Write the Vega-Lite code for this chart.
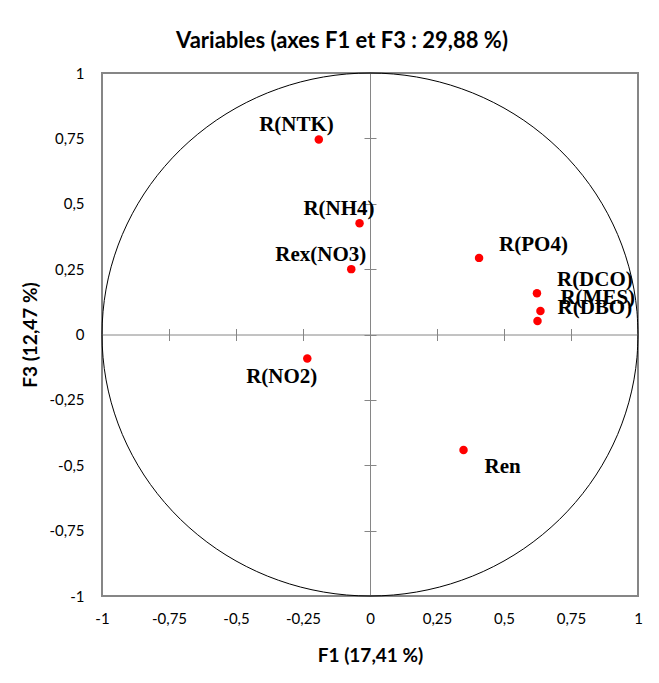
{
  "$schema": "https://vega.github.io/schema/vega-lite/v6.json",
  "width": 536,
  "height": 523,
  "autosize": {"type": "none"},
  "padding": {"left": 102, "top": 73, "right": 21, "bottom": 87},
  "background": "white",
  "title": {
    "text": "Variables (axes F1 et F3 : 29,88 %)",
    "font": "Lato",
    "fontSize": 22,
    "fontWeight": "bold",
    "color": "#000000",
    "anchor": "middle",
    "frame": "group",
    "dx": -28,
    "dy": 4,
    "baseline": "alphabetic",
    "offset": 0
  },
  "datasets": {
    "circle": [
      {"i": 0, "cx": 1, "cy": 0},
      {"i": 1, "cx": 0.9962, "cy": 0.0872},
      {"i": 2, "cx": 0.9848, "cy": 0.1736},
      {"i": 3, "cx": 0.9659, "cy": 0.2588},
      {"i": 4, "cx": 0.9397, "cy": 0.342},
      {"i": 5, "cx": 0.9063, "cy": 0.4226},
      {"i": 6, "cx": 0.866, "cy": 0.5},
      {"i": 7, "cx": 0.8192, "cy": 0.5736},
      {"i": 8, "cx": 0.766, "cy": 0.6428},
      {"i": 9, "cx": 0.7071, "cy": 0.7071},
      {"i": 10, "cx": 0.6428, "cy": 0.766},
      {"i": 11, "cx": 0.5736, "cy": 0.8192},
      {"i": 12, "cx": 0.5, "cy": 0.866},
      {"i": 13, "cx": 0.4226, "cy": 0.9063},
      {"i": 14, "cx": 0.342, "cy": 0.9397},
      {"i": 15, "cx": 0.2588, "cy": 0.9659},
      {"i": 16, "cx": 0.1736, "cy": 0.9848},
      {"i": 17, "cx": 0.0872, "cy": 0.9962},
      {"i": 18, "cx": 0, "cy": 1},
      {"i": 19, "cx": -0.0872, "cy": 0.9962},
      {"i": 20, "cx": -0.1736, "cy": 0.9848},
      {"i": 21, "cx": -0.2588, "cy": 0.9659},
      {"i": 22, "cx": -0.342, "cy": 0.9397},
      {"i": 23, "cx": -0.4226, "cy": 0.9063},
      {"i": 24, "cx": -0.5, "cy": 0.866},
      {"i": 25, "cx": -0.5736, "cy": 0.8192},
      {"i": 26, "cx": -0.6428, "cy": 0.766},
      {"i": 27, "cx": -0.7071, "cy": 0.7071},
      {"i": 28, "cx": -0.766, "cy": 0.6428},
      {"i": 29, "cx": -0.8192, "cy": 0.5736},
      {"i": 30, "cx": -0.866, "cy": 0.5},
      {"i": 31, "cx": -0.9063, "cy": 0.4226},
      {"i": 32, "cx": -0.9397, "cy": 0.342},
      {"i": 33, "cx": -0.9659, "cy": 0.2588},
      {"i": 34, "cx": -0.9848, "cy": 0.1736},
      {"i": 35, "cx": -0.9962, "cy": 0.0872},
      {"i": 36, "cx": -1, "cy": 0},
      {"i": 37, "cx": -0.9962, "cy": -0.0872},
      {"i": 38, "cx": -0.9848, "cy": -0.1736},
      {"i": 39, "cx": -0.9659, "cy": -0.2588},
      {"i": 40, "cx": -0.9397, "cy": -0.342},
      {"i": 41, "cx": -0.9063, "cy": -0.4226},
      {"i": 42, "cx": -0.866, "cy": -0.5},
      {"i": 43, "cx": -0.8192, "cy": -0.5736},
      {"i": 44, "cx": -0.766, "cy": -0.6428},
      {"i": 45, "cx": -0.7071, "cy": -0.7071},
      {"i": 46, "cx": -0.6428, "cy": -0.766},
      {"i": 47, "cx": -0.5736, "cy": -0.8192},
      {"i": 48, "cx": -0.5, "cy": -0.866},
      {"i": 49, "cx": -0.4226, "cy": -0.9063},
      {"i": 50, "cx": -0.342, "cy": -0.9397},
      {"i": 51, "cx": -0.2588, "cy": -0.9659},
      {"i": 52, "cx": -0.1736, "cy": -0.9848},
      {"i": 53, "cx": -0.0872, "cy": -0.9962},
      {"i": 54, "cx": 0, "cy": -1},
      {"i": 55, "cx": 0.0872, "cy": -0.9962},
      {"i": 56, "cx": 0.1736, "cy": -0.9848},
      {"i": 57, "cx": 0.2588, "cy": -0.9659},
      {"i": 58, "cx": 0.342, "cy": -0.9397},
      {"i": 59, "cx": 0.4226, "cy": -0.9063},
      {"i": 60, "cx": 0.5, "cy": -0.866},
      {"i": 61, "cx": 0.5736, "cy": -0.8192},
      {"i": 62, "cx": 0.6428, "cy": -0.766},
      {"i": 63, "cx": 0.7071, "cy": -0.7071},
      {"i": 64, "cx": 0.766, "cy": -0.6428},
      {"i": 65, "cx": 0.8192, "cy": -0.5736},
      {"i": 66, "cx": 0.866, "cy": -0.5},
      {"i": 67, "cx": 0.9063, "cy": -0.4226},
      {"i": 68, "cx": 0.9397, "cy": -0.342},
      {"i": 69, "cx": 0.9659, "cy": -0.2588},
      {"i": 70, "cx": 0.9848, "cy": -0.1736},
      {"i": 71, "cx": 0.9962, "cy": -0.0872},
      {"i": 72, "cx": 1, "cy": 0}
    ],
    "vars": [
      {"name": "R(NTK)", "F1": -0.191, "F3": 0.746},
      {"name": "R(NH4)", "F1": -0.039, "F3": 0.425},
      {"name": "Rex(NO3)", "F1": -0.07, "F3": 0.25},
      {"name": "R(PO4)", "F1": 0.407, "F3": 0.293},
      {"name": "R(DCO)", "F1": 0.623, "F3": 0.158},
      {"name": "R(MES)", "F1": 0.636, "F3": 0.09},
      {"name": "R(DBO)", "F1": 0.625, "F3": 0.052},
      {"name": "R(NO2)", "F1": -0.234, "F3": -0.092},
      {"name": "Ren", "F1": 0.349, "F3": -0.442}
    ]
  },
  "resolve": {"axis": {"x": "independent", "y": "independent"}},
  "layer": [
    {
      "data": {"name": "circle"},
      "mark": {"type": "line", "color": "#000000", "strokeWidth": 1, "interpolate": "cardinal", "clip": false},
      "encoding": {
        "x": {
          "field": "cx", "type": "quantitative",
          "scale": {"domain": [-1, 1], "nice": false, "zero": false},
          "axis": {
            "orient": "bottom",
            "values": [-1, -0.75, -0.5, -0.25, 0, 0.25, 0.5, 0.75, 1],
            "labelExpr": "replace(toString(datum.value), '.', ',')",
            "ticks": false, "domain": false, "grid": false,
            "labelFont": "Lato", "labelFontSize": 15, "labelColor": "#000000",
            "labelPadding": 15, "labelFlush": false, "labelOverlap": false,
            "title": "F1 (17,41 %)",
            "titleFont": "Lato", "titleFontSize": 19, "titleFontWeight": "bold", "titleColor": "#000000",
            "titlePadding": 20
          }
        },
        "y": {
          "field": "cy", "type": "quantitative",
          "scale": {"domain": [-1, 1], "nice": false, "zero": false},
          "axis": {
            "orient": "left",
            "values": [-1, -0.75, -0.5, -0.25, 0, 0.25, 0.5, 0.75, 1],
            "labelExpr": "replace(toString(datum.value), '.', ',')",
            "ticks": false, "domain": false, "grid": false,
            "labelFont": "Lato", "labelFontSize": 15, "labelColor": "#000000",
            "labelPadding": 18, "labelFlush": false, "labelOverlap": false,
            "title": "F3 (12,47 %)",
            "titleFont": "Lato", "titleFontSize": 19, "titleFontWeight": "bold", "titleColor": "#000000",
            "titlePadding": 8
          }
        },
        "order": {"field": "i", "type": "quantitative"}
      }
    },
    {
      "data": {"name": "vars"},
      "mark": {"type": "point", "filled": true, "color": "#ff0000", "opacity": 1, "size": 72},
      "encoding": {
        "x": {
          "field": "F1", "type": "quantitative",
          "axis": {
            "orient": "bottom", "offset": -261.5,
            "values": [-1, -0.75, -0.5, -0.25, 0, 0.25, 0.5, 0.75, 1],
            "labels": false, "title": null, "grid": false,
            "domain": true, "domainColor": "#868686", "domainWidth": 1,
            "ticks": true, "tickSize": 6, "tickColor": "#868686", "tickWidth": 1
          }
        },
        "y": {
          "field": "F3", "type": "quantitative",
          "axis": {
            "orient": "left", "offset": -268,
            "values": [-1, -0.75, -0.5, -0.25, 0, 0.25, 0.5, 0.75, 1],
            "labels": false, "title": null, "grid": false,
            "domain": true, "domainColor": "#868686", "domainWidth": 1,
            "ticks": true, "tickSize": 6, "tickColor": "#868686", "tickWidth": 1
          }
        }
      }
    },
    {
      "data": {"name": "vars"},
      "transform": [{"filter": {"field": "name", "oneOf": ["R(PO4)", "R(DCO)", "R(MES)", "R(DBO)"]}}],
      "mark": {"type": "text", "font": "Liberation Serif", "fontWeight": "bold", "fontSize": 21, "color": "#000000", "align": "left", "baseline": "alphabetic", "dx": 20, "dy": -7},
      "encoding": {
        "x": {
          "field": "F1", "type": "quantitative",
          "axis": {
            "orient": "top", "offset": -261.5,
            "values": [-1, -0.75, -0.5, -0.25, 0, 0.25, 0.5, 0.75, 1],
            "labels": false, "title": null, "grid": false, "domain": false,
            "ticks": true, "tickSize": 6, "tickColor": "#868686", "tickWidth": 1
          }
        },
        "y": {
          "field": "F3", "type": "quantitative",
          "axis": {
            "orient": "right", "offset": -268,
            "values": [-1, -0.75, -0.5, -0.25, 0, 0.25, 0.5, 0.75, 1],
            "labels": false, "title": null, "grid": false, "domain": false,
            "ticks": true, "tickSize": 6, "tickColor": "#868686", "tickWidth": 1
          }
        },
        "text": {"field": "name", "type": "nominal"}
      }
    },
    {
      "data": {"name": "vars"},
      "transform": [{"filter": {"field": "name", "oneOf": ["R(NTK)", "R(NH4)", "Rex(NO3)"]}}],
      "mark": {"type": "text", "font": "Liberation Serif", "fontWeight": "bold", "fontSize": 21, "color": "#000000", "align": "right", "baseline": "alphabetic", "dx": 15, "dy": -8},
      "encoding": {
        "x": {"field": "F1", "type": "quantitative", "axis": null},
        "y": {"field": "F3", "type": "quantitative", "axis": null},
        "text": {"field": "name", "type": "nominal"}
      }
    },
    {
      "data": {"name": "vars"},
      "transform": [{"filter": {"field": "name", "equal": "R(NO2)"}}],
      "mark": {"type": "text", "font": "Liberation Serif", "fontWeight": "bold", "fontSize": 21, "color": "#000000", "align": "right", "baseline": "alphabetic", "dx": 10, "dy": 24},
      "encoding": {
        "x": {"field": "F1", "type": "quantitative", "axis": null},
        "y": {"field": "F3", "type": "quantitative", "axis": null},
        "text": {"field": "name", "type": "nominal"}
      }
    },
    {
      "data": {"name": "vars"},
      "transform": [{"filter": {"field": "name", "equal": "Ren"}}],
      "mark": {"type": "text", "font": "Liberation Serif", "fontWeight": "bold", "fontSize": 21, "color": "#000000", "align": "left", "baseline": "alphabetic", "dx": 21, "dy": 23},
      "encoding": {
        "x": {"field": "F1", "type": "quantitative", "axis": null},
        "y": {"field": "F3", "type": "quantitative", "axis": null},
        "text": {"field": "name", "type": "nominal"}
      }
    }
  ],
  "config": {
    "font": "Lato",
    "view": {"stroke": "#868686", "strokeWidth": 2},
    "axis": {"grid": false}
  }
}
